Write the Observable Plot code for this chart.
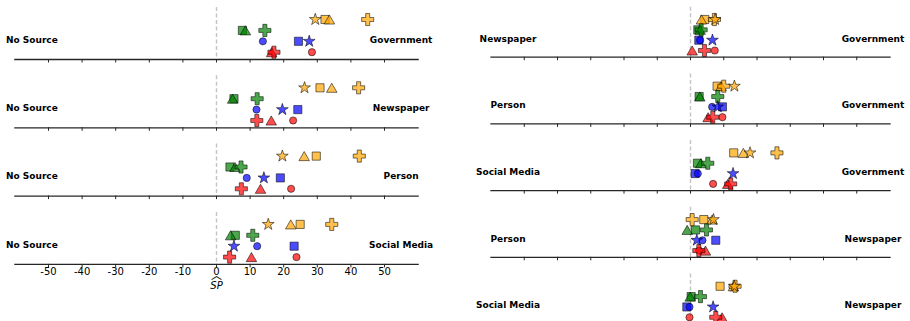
<!DOCTYPE html>
<html>
<head>
<meta charset="utf-8">
<script src="https://cdn.jsdelivr.net/npm/d3@7"></script>
<script src="https://cdn.jsdelivr.net/npm/@observablehq/plot@0.6"></script>
<style>
  html, body { margin: 0; padding: 0; background: #fff; overflow: hidden; }
  #wrap { display: flex; align-items: flex-start; width: 910px; }
  #wrap svg { display: block; flex: none; max-width: none; }
</style>
</head>
<body>
<div id="wrap"></div>
<script>
// Colour groups, stacked top to bottom inside every row
const series = ["orange", "green", "blue", "red"];
const seriesColors = ["#ffa500", "#008000", "#0000ff", "#ff0000"];

// The 13 marker slots of a row: colour group and marker shape of each
const slotSeries = ["orange", "orange", "orange", "orange",
                    "green", "green", "green",
                    "blue", "blue", "blue",
                    "red", "red", "red"];
const slotShapes = ["star", "square", "triangle", "plus",
                    "square", "triangle", "plus",
                    "circle", "square", "star",
                    "circle", "triangle", "plus"];

// Shared x axis
const xTicks = [-50, -40, -30, -20, -10, 0, 10, 20, 30, 40, 50];
const xTickLabels = ["-50", "-40", "-30", "-20", "-10", "0", "10", "20", "30", "40", "50"];

// Source pairs (left label, right label) of each row
const leftPairs = [
  ["No Source", "Government"],
  ["No Source", "Newspaper"],
  ["No Source", "Person"],
  ["No Source", "Social Media"]
];
const rightPairs = [
  ["Newspaper", "Government"],
  ["Person", "Government"],
  ["Social Media", "Government"],
  ["Person", "Newspaper"],
  ["Social Media", "Newspaper"]
];

// SP values per row, in slot order
const noSourceGovernment    = [29.4, 32.3, 33.6, 45.0,  7.7,  8.6, 14.4, 13.8, 24.4, 27.6, 28.4, 16.4, 17.1];
const noSourceNewspaper     = [26.2, 30.8, 34.3, 42.3,  5.2,  4.8, 12.1, 11.9, 24.2, 19.6, 22.8, 16.3, 12.0];
const noSourcePerson        = [19.6, 29.7, 26.1, 42.5,  4.0,  5.5,  7.3,  9.0, 19.0, 14.1, 22.2, 13.1,  7.4];
const noSourceSocialMedia   = [15.4, 24.9, 22.1, 34.3,  5.6,  4.2, 10.8, 12.1, 23.1,  5.2, 23.8, 10.4,  3.9];
const newspaperGovernment   = [ 7.4,  4.3,  3.3,  7.2,  2.2,  2.9,  3.2,  2.9,  2.5,  6.6,  7.3,  0.5,  4.2];
const personGovernment      = [13.2,  8.0,  9.2, 10.0,  2.6,  2.8,  8.2,  6.5,  9.6,  8.2,  9.6,  5.3,  6.7];
const socialMediaGovernment = [17.9, 13.0, 15.9, 26.0,  2.1,  3.1,  5.2,  2.2,  1.4, 12.8,  6.8, 11.2, 12.1];
const personNewspaper       = [ 6.9,  4.0,  6.5,  0.5,  1.5, -1.0,  4.8,  3.6,  7.6,  1.9,  2.6,  4.5,  2.5];
const socialMediaNewspaper  = [13.2,  8.9, 12.9, 13.4,  0.2, -0.1,  3.0, -0.3, -1.1,  6.8, -0.3,  9.5,  7.6];

const leftValues = [noSourceGovernment, noSourceNewspaper, noSourcePerson, noSourceSocialMedia];
const rightValues = [newspaperGovernment, personGovernment, socialMediaGovernment, personNewspaper, socialMediaNewspaper];

// Marker appearance, drawn in this order (later shapes on top)
const shapeOrder = ["square", "circle", "triangle", "plus", "star"];
const shapeSymbol = {square: "square", circle: "circle", triangle: "triangle", plus: "cross", star: "star"};
const shapeRadius = {square: 4.6, circle: 3.6, triangle: 3.9, plus: 5.1, star: 3.7};

function panel({pairs, values, width, height, marginLeft, marginRight, marginTop, marginBottom,
                paddingInner, insetTop, insetBottom, tickLabels}) {
  const keys = pairs.map(p => p.join(" | "));
  const points = pairs.flatMap((p, r) => values[r].map((v, i) => ({
    row: keys[r], series: slotSeries[i], shape: slotShapes[i], value: v
  })));
  const labels = pairs.map((p, r) => ({row: keys[r], left: p[0], right: p[1]}));
  const labelStyle = {fy: "row", fontWeight: "bold", fontSize: 9, fill: "#000", textAnchor: "middle", dy: 6.5};

  const marks = [
    Plot.ruleX([0], {stroke: "#c4c4c4", strokeWidth: 1.4, strokeDasharray: "4,2.5"}),
    Plot.frame({anchor: "bottom", stroke: "#262626", strokeWidth: 1.3}),
    Plot.axisX({ticks: xTicks, tickSize: 3.5, tickFormat: () => "", label: null,
                facetAnchor: null, stroke: "#262626", strokeWidth: 1}),
    Plot.text(labels, {...labelStyle, text: "left", frameAnchor: "left", dx: 17}),
    Plot.text(labels, {...labelStyle, text: "right", frameAnchor: "right", dx: -17}),
    ...shapeOrder.map(s => Plot.dot(points.filter(d => d.shape === s), {
      fy: "row", x: "value", y: "series", fill: "series",
      symbol: shapeSymbol[s], r: shapeRadius[s], dy: s === "triangle" ? 1.5 : 0,
      fillOpacity: 0.7, stroke: "#000", strokeOpacity: 0.6, strokeWidth: 0.9
    }))
  ];
  if (tickLabels) {
    marks.push(
      Plot.axisX({ticks: xTicks, tickSize: 0, tickPadding: 3, label: null, fontSize: 10, fill: "#000",
                  tickFormat: d => xTickLabels[xTicks.indexOf(d)]}),
      // axis name: SP with a wide hat above it
      Plot.text(["SP"], {text: d => d, frameAnchor: "bottom", dy: 25, fontStyle: "italic",
                         fontSize: 10, fill: "#000", facetAnchor: "bottom"}),
      Plot.text(["\uFE3F"], {text: d => d, frameAnchor: "bottom", dy: 14.5, fontSize: 11,
                             fontFamily: "Noto Sans CJK SC", fill: "#000", facetAnchor: "bottom"})
    );
  }

  return Plot.plot({
    width, height, marginLeft, marginRight, marginTop, marginBottom,
    style: {fontFamily: "DejaVu Sans", fontSize: "10px", background: "#fff", color: "#000", overflow: "visible"},
    x: {domain: [-60, 60], axis: null},
    y: {type: "point", domain: series, padding: 0, insetTop, insetBottom, round: false, axis: null},
    fy: {domain: keys, paddingInner, paddingOuter: 0, round: false, axis: null},
    color: {domain: series, range: seriesColors},
    marks
  });
}

const wrap = document.getElementById("wrap");
wrap.append(panel({
  pairs: leftPairs, values: leftValues,
  width: 455, height: 321, marginLeft: 14.4, marginRight: 37.4, marginTop: 7, marginBottom: 57.1,
  paddingInner: 0.2386, insetTop: 12, insetBottom: 7.3, tickLabels: true
}));
wrap.append(panel({
  pairs: rightPairs, values: rightValues,
  width: 455, height: 330, marginLeft: 35.5, marginRight: 20.5, marginTop: 6.7, marginBottom: 6.5,
  paddingInner: 0.25, insetTop: 12.3, insetBottom: 6.7, tickLabels: false
}));
</script>
</body>
</html>
